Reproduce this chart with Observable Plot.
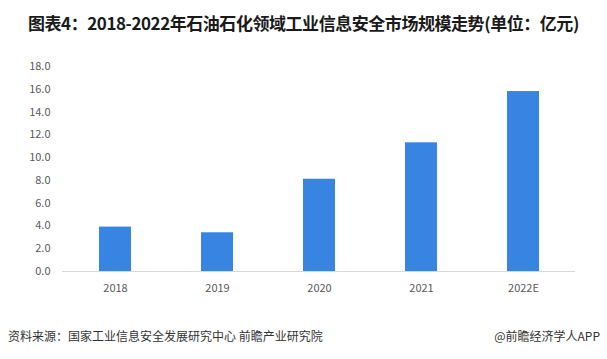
<!DOCTYPE html>
<html>
<head>
<meta charset="utf-8">
<script src="https://cdn.jsdelivr.net/npm/d3@7"></script>
<script src="https://cdn.jsdelivr.net/npm/@observablehq/plot@0.6"></script>
<style>
  html, body { margin: 0; padding: 0; background: #fff; }
  #wrap { position: relative; width: 607px; height: 359px; overflow: hidden; font-family: "Noto Sans CJK SC", "Noto Sans", sans-serif; }
  #title { position: absolute; left: 28px; top: 10px; font-size: 17px; font-weight: bold; color: #1a1a1a; white-space: nowrap; letter-spacing: -0.45px; }
  #source { position: absolute; left: 8px; top: 327px; font-size: 12px; color: #333; white-space: nowrap; }
  #brand { position: absolute; right: 7px; top: 327px; font-size: 12px; color: #333; white-space: nowrap; }
  #chart { position: absolute; left: 0; top: 0; }
</style>
</head>
<body>
<div id="wrap">
  <div id="chart"></div>
  <div id="title">图表4：2018-2022年石油石化领域工业信息安全市场规模走势(单位：亿元)</div>
  <div id="source">资料来源：国家工业信息安全发展研究中心 前瞻产业研究院</div>
  <div id="brand">@前瞻经济学人APP</div>
</div>
<script>
const years = ["2018", "2019", "2020", "2021", "2022E"];
const values = [3.9, 3.4, 8.1, 11.3, 15.8];
const yTicks = [0, 2, 4, 6, 8, 10, 12, 14, 16, 18];

const data = years.map((y, i) => ({year: y, value: values[i]}));

const chart = Plot.plot({
  width: 607,
  height: 359,
  marginLeft: 62,
  marginRight: 32,
  marginTop: 66,
  marginBottom: 88,
  style: {fontFamily: "'Noto Sans CJK SC', 'Noto Sans', sans-serif", fontSize: "11px", color: "#595959", background: "transparent"},
  x: {domain: years, paddingInner: 0.69, paddingOuter: 0.345, label: null},
  y: {domain: [0, 18], label: null},
  marks: [
    Plot.barY(data, {x: "year", y: "value", fill: "#3784e3"}),
    Plot.ruleY([0], {stroke: "#d9d9d9", strokeWidth: 1}),
    Plot.axisY({ticks: yTicks, tickFormat: d => d.toFixed(1), tickSize: 0, tickPadding: 12, label: null, fontSize: 11}),
    Plot.axisX({tickSize: 0, tickPadding: 13, label: null, fontSize: 11})
  ]
});
document.getElementById("chart").appendChild(chart);
</script>
</body>
</html>
